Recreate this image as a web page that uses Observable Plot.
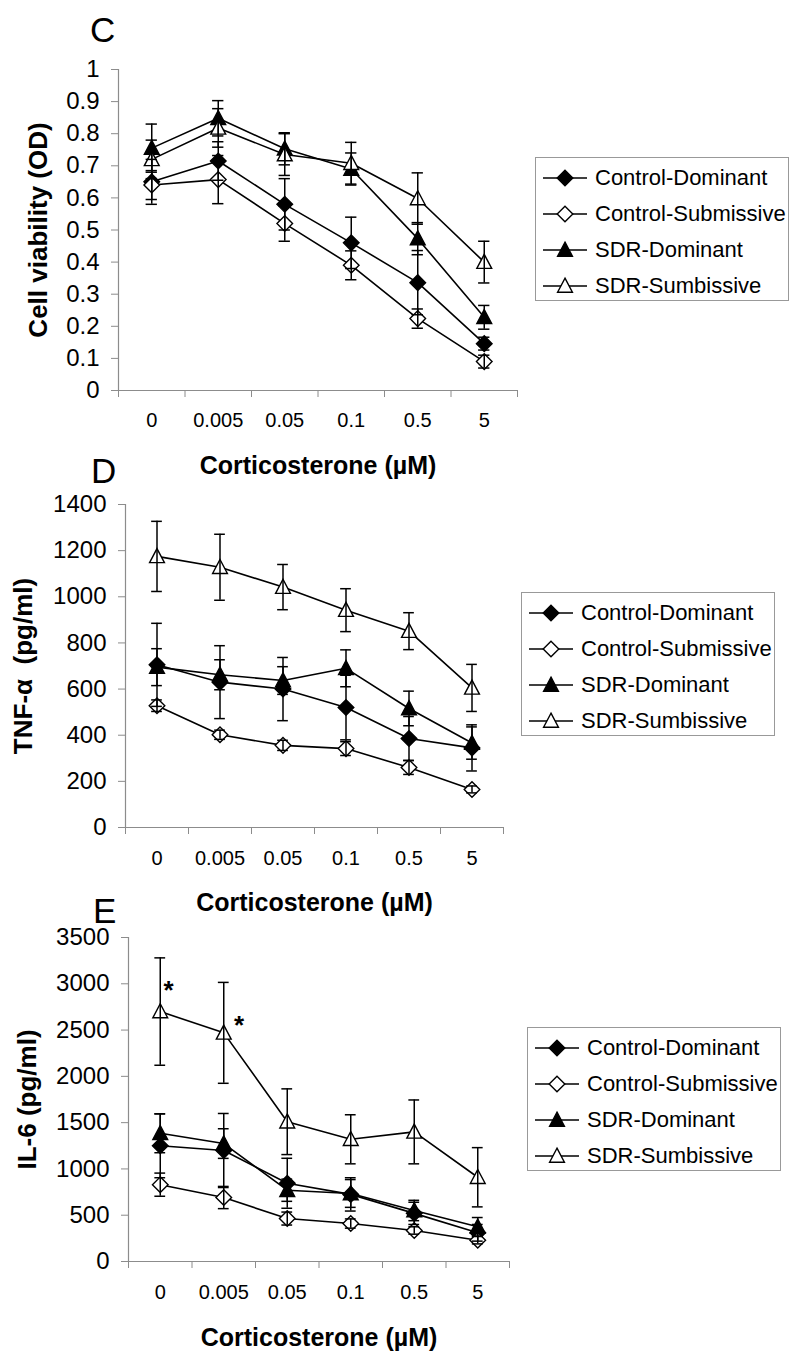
<!DOCTYPE html>
<html>
<head>
<meta charset="utf-8">
<script src="https://cdn.jsdelivr.net/npm/d3@7"></script>
<script src="https://cdn.jsdelivr.net/npm/@observablehq/plot@0.6"></script>
<style>
  body { margin: 0; background: #fff; }
  #root { position: relative; width: 800px; height: 1361px; font-family: "Liberation Sans", Arial, sans-serif; overflow: hidden; }
  .panel { position: absolute; left: 0; }
  .letter { position: absolute; font-size: 35px; line-height: 35px; color: #000; }
  .legend { position: absolute; border: 1px solid #999; background: #fff; box-sizing: border-box; width: 254px; height: 144px; }
  .legend .row { position: absolute; left: 0; height: 36px; width: 252px; }
  .legend .row svg { position: absolute; left: 7px; top: 8px; }
  .legend .row span { position: absolute; left: 59px; top: 0; line-height: 36px; font-size: 22px; color: #000; white-space: nowrap; }
</style>
</head>
<body>
<div id="root"></div>
<script>
// ---------- data ----------
const doses = ["0", "0.005", "0.05", "0.1", "0.5", "5"];
const seriesNames = ["Control-Dominant", "Control-Submissive", "SDR-Dominant", "SDR-Sumbissive"];
const xTitle = "Corticosterone (\u00b5M)";

// Panel C: cell viability (OD)
const viabCD = [0.65, 0.715, 0.58, 0.46, 0.336, 0.146];
const viabCDerr = [0.07, 0.06, 0.08, 0.08, 0.10, 0.02];
const viabCS = [0.64, 0.657, 0.52, 0.39, 0.224, 0.09];
const viabCSerr = [0.045, 0.075, 0.055, 0.045, 0.03, 0.02];
const viabSD = [0.755, 0.848, 0.753, 0.69, 0.473, 0.228];
const viabSDerr = [0.075, 0.055, 0.05, 0.05, 0.05, 0.037];
const viabSS = [0.72, 0.818, 0.735, 0.708, 0.598, 0.40];
const viabSSerr = [0.06, 0.06, 0.065, 0.065, 0.08, 0.065];

// Panel D: TNF-alpha (pg/ml)
const tnfCD = [705, 630, 600, 520, 386, 345];
const tnfCDerr = [180, 158, 137, 140, 95, 100];
const tnfCS = [528, 402, 356, 342, 260, 165];
const tnfCSerr = [25, 20, 22, 30, 30, 15];
const tnfSD = [695, 662, 637, 690, 516, 366];
const tnfSDerr = [80, 65, 60, 80, 75, 70];
const tnfSS = [1175, 1128, 1042, 942, 851, 605];
const tnfSSerr = [152, 143, 98, 93, 80, 102];

// Panel E: IL-6 (pg/ml)
const il6CD = [1250, 1199, 845, 725, 520, 310];
const il6CDerr = [345, 400, 270, 180, 120, 90];
const il6CS = [830, 691, 464, 410, 335, 230];
const il6CSerr = [125, 120, 70, 50, 40, 40];
const il6SD = [1385, 1274, 770, 735, 551, 375];
const il6SDerr = [210, 160, 120, 150, 110, 100];
const il6SS = [2700, 2470, 1510, 1320, 1400, 910];
const il6SSerr = [580, 545, 355, 265, 345, 320];
// significance marks (position along the dose axis, IL-6 level)
const sigX = [0.63, 1.74];
const sigY = [2930, 2550];

// ---------- symbols ----------
const diamondSym = { draw(ctx, size) { const r = Math.sqrt(size / Math.PI); ctx.moveTo(0, -r); ctx.lineTo(r, 0); ctx.lineTo(0, r); ctx.lineTo(-r, 0); ctx.closePath(); } };
const triangleSym = { draw(ctx, size) { const r = Math.sqrt(size / Math.PI); ctx.moveTo(0, -r); ctx.lineTo(r * 0.95, r * 0.8); ctx.lineTo(-r * 0.95, r * 0.8); ctx.closePath(); } };
const styleOf = {
  "Control-Dominant": { symbol: diamondSym, fill: "black" },
  "Control-Submissive": { symbol: diamondSym, fill: "white" },
  "SDR-Dominant": { symbol: triangleSym, fill: "black" },
  "SDR-Sumbissive": { symbol: triangleSym, fill: "white" }
};
const R = 7.8;
const FONT = "Liberation Sans, Arial, sans-serif";

function rowsOf(means, errs) {
  const rows = [];
  seriesNames.forEach((s, k) => {
    means[k].forEach((v, i) => rows.push({ series: s, x: i + 0.5, y: v, err: errs[k][i] }));
  });
  return rows;
}

function panel(cfg) {
  const rows = rowsOf(cfg.means, cfg.errs);
  const marks = [
    Plot.ruleY([cfg.yDomain[0]], { stroke: "#8c8c8c", strokeWidth: 1.2 }),
    Plot.ruleX([0], { stroke: "#8c8c8c", strokeWidth: 1.2 }),
    Plot.axisY({ ticks: cfg.yTicks, tickSize: 7, tickPadding: 12, stroke: "#8c8c8c", fill: "black", fontSize: 24, tickFormat: cfg.yFmt, label: null }),
    Plot.axisX({ ticks: d3.range(7), tickSize: 7, tickFormat: () => "", stroke: "#8c8c8c", label: null }),
    Plot.text(doses, { x: (d, i) => i + 0.5, text: d => d, frameAnchor: "bottom", lineAnchor: "middle", dy: cfg.tickDy, fontSize: 20, fill: "black" }),
    Plot.text([xTitle], { text: d => d, frameAnchor: "bottom", lineAnchor: "middle", textAnchor: "middle", dy: cfg.titleDy, fontSize: 25, fontWeight: "bold", fill: "black" }),
    Plot.text([cfg.yLabel], { text: d => d, frameAnchor: "left", textAnchor: "middle", lineAnchor: "middle", dx: cfg.yLabelDx, rotate: -90, fontSize: 26, fontWeight: "bold", fill: "black" }),
    Plot.line(rows, { x: "x", y: "y", z: "series", stroke: "black", strokeWidth: 1.6 })
  ];
  seriesNames.forEach(s => {
    const st = styleOf[s];
    marks.push(Plot.dot(rows.filter(d => d.series === s), { x: "x", y: "y", symbol: st.symbol, r: R, fill: st.fill, stroke: "black", strokeWidth: 1.4 }));
  });
  marks.push(
    Plot.ruleX(rows, { x: "x", y1: d => d.y - d.err, y2: d => d.y + d.err, stroke: "black", strokeWidth: 1.5 }),
    Plot.ruleY(rows, { y: d => d.y + d.err, x1: d => d.x - 0.085, x2: d => d.x + 0.085, stroke: "black", strokeWidth: 1.5 }),
    Plot.ruleY(rows, { y: d => d.y - d.err, x1: d => d.x - 0.085, x2: d => d.x + 0.085, stroke: "black", strokeWidth: 1.5 })
  );
  if (cfg.extra) marks.push(...cfg.extra);
  const svg = Plot.plot({
    width: 800, height: cfg.height,
    marginTop: cfg.mTop, marginBottom: cfg.mBottom, marginLeft: cfg.mLeft, marginRight: cfg.mRight,
    x: { domain: [0, 6] },
    y: { domain: cfg.yDomain },
    style: { background: "transparent", overflow: "visible", fontFamily: FONT, color: "black" },
    marks
  });
  svg.classList.add("panel");
  svg.style.top = cfg.top + "px";
  svg.style.position = "absolute";
  return svg;
}

const root = document.getElementById("root");

// Panel C
root.appendChild(panel({
  top: 0, height: 480, mTop: 69, mBottom: 90, mLeft: 118, mRight: 283,
  yDomain: [0, 1], yTicks: d3.range(11).map(i => i / 10), yFmt: d => String(+d.toFixed(1)),
  yLabel: "Cell viability (OD)", yLabelDx: -80, tickDy: 30, titleDy: 75,
  means: [viabCD, viabCS, viabSD, viabSS], errs: [viabCDerr, viabCSerr, viabSDerr, viabSSerr]
}));

// Panel D
root.appendChild(panel({
  top: 480, height: 440, mTop: 24, mBottom: 93, mLeft: 125, mRight: 297,
  yDomain: [0, 1400], yTicks: d3.range(0, 1401, 200), yFmt: d => String(d),
  yLabel: "TNF-\u03b1  (pg/ml)", yLabelDx: -102, tickDy: 31, titleDy: 75,
  means: [tnfCD, tnfCS, tnfSD, tnfSS], errs: [tnfCDerr, tnfCSerr, tnfSDerr, tnfSSerr]
}));

// Panel E
root.appendChild(panel({
  top: 920, height: 441, mTop: 17, mBottom: 100, mLeft: 128, mRight: 291,
  yDomain: [0, 3500], yTicks: d3.range(0, 3501, 500), yFmt: d => String(d),
  yLabel: "IL-6 (pg/ml)", yLabelDx: -101, tickDy: 31, titleDy: 76,
  means: [il6CD, il6CS, il6SD, il6SS], errs: [il6CDerr, il6CSerr, il6SDerr, il6SSerr],
  extra: [Plot.text(sigX, { x: d => d, y: (d, i) => sigY[i], text: () => "*", fontSize: 26, fontWeight: "bold", fill: "black" })]
}));

// letters
[["C", 90, 12], ["D", 91, 453], ["E", 93, 893]].forEach(([t, x, y]) => {
  const el = document.createElement("div");
  el.className = "letter"; el.textContent = t;
  el.style.left = x + "px"; el.style.top = y + "px";
  root.appendChild(el);
});

// legends
function legend(left, top) {
  const box = document.createElement("div");
  box.className = "legend";
  box.style.left = left + "px"; box.style.top = top + "px";
  seriesNames.forEach((s, i) => {
    const row = document.createElement("div");
    row.className = "row";
    row.style.top = (2 + i * 36) + "px";
    const st = styleOf[s];
    const sym = d3.symbol().type(st.symbol).size(Math.PI * R * R)();
    row.innerHTML = `<svg width="46" height="20" viewBox="0 0 46 20"><line x1="0" x2="44" y1="10" y2="10" stroke="black" stroke-width="1.6"/><path transform="translate(22,10)" d="${sym}" fill="${st.fill}" stroke="black" stroke-width="1.4"/></svg><span>${s}</span>`;
    box.appendChild(row);
  });
  root.appendChild(box);
}
legend(535, 157);
legend(521, 592);
legend(527, 1027);
</script>
</body>
</html>
